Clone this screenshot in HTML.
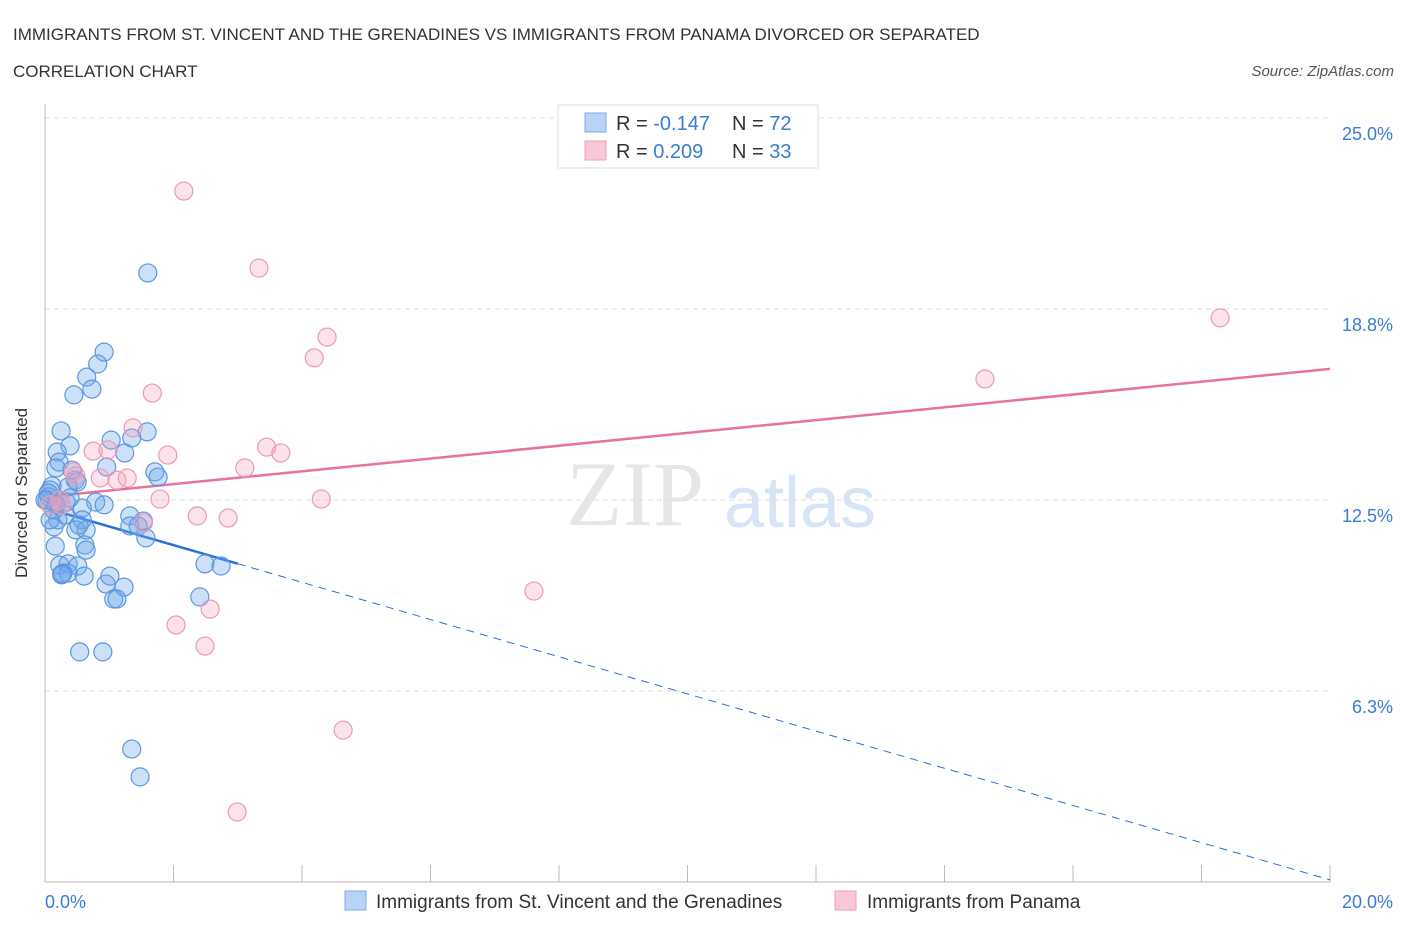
<!DOCTYPE html>
<html><head><meta charset="utf-8"><style>
body{margin:0;background:#fff;font-family:"Liberation Sans",sans-serif;}
svg text{font-family:"Liberation Sans",sans-serif;}
</style></head><body>
<svg width="1406" height="930" xmlns="http://www.w3.org/2000/svg" id="chart">
<text x="13" y="40" font-size="17" fill="#333">IMMIGRANTS FROM ST. VINCENT AND THE GRENADINES VS IMMIGRANTS FROM PANAMA DIVORCED OR SEPARATED</text>
<text x="13" y="77" font-size="17" fill="#333">CORRELATION CHART</text>
<text x="1394" y="76" font-size="15" fill="#555" text-anchor="end" font-style="italic">Source: ZipAtlas.com</text>
<text x="635" y="525" font-size="92" fill="#e6e6e6" text-anchor="middle" font-family="Liberation Serif" style="font-family:'Liberation Serif',serif">ZIP</text>
<text x="800" y="527" font-size="72" fill="#d6e4f5" text-anchor="middle">atlas</text>
<g id="grid"></g>
<line x1="45" y1="104" x2="45" y2="882" stroke="#bbb"/>
<line x1="45" y1="882" x2="1330" y2="882" stroke="#bbb"/>
<g id="xticks"></g>
<text x="27" y="493" font-size="17" fill="#333" text-anchor="middle" transform="rotate(-90 27 493)">Divorced or Separated</text>
<text x="45" y="908" font-size="18" fill="#3a7bd5">0.0%</text>
<text x="1393" y="908" font-size="18" fill="#3a7bd5" text-anchor="end">20.0%</text>
<g id="lines"></g>
<g id="points"></g>
<g>
<rect x="558" y="105" width="260" height="63" fill="#fff" stroke="#ddd"/>
<rect x="585" y="113" width="21" height="19" fill="#b9d3f5" stroke="#7eaee8"/>
<rect x="585" y="141" width="21" height="19" fill="#f9c8d6" stroke="#eda0b8"/>
<text x="616" y="130" font-size="20" fill="#333">R = <tspan fill="#3a7bd5">-0.147</tspan></text>
<text x="732" y="130" font-size="20" fill="#333">N = <tspan fill="#3a7bd5">72</tspan></text>
<text x="616" y="158" font-size="20" fill="#333">R = <tspan fill="#3a7bd5"> 0.209</tspan></text>
<text x="732" y="158" font-size="20" fill="#333">N = <tspan fill="#3a7bd5">33</tspan></text>
</g>
<g>
<rect x="345" y="891" width="21" height="19" fill="#b9d3f5" stroke="#7eaee8"/>
<text x="376" y="908" font-size="19" fill="#333">Immigrants from St. Vincent and the Grenadines</text>
<rect x="835" y="891" width="21" height="19" fill="#f9c8d6" stroke="#eda0b8"/>
<text x="867" y="908" font-size="19" fill="#333">Immigrants from Panama</text>
</g>
</svg>
<script>
const yTicks=[6.25,12.5,18.75,25];
const yTickLabels=["6.3%","12.5%","18.8%","25.0%"];
const xTickVals=[0,2,4,6,8,10,12,14,16,18,20];
const blueX=[1.60,0.92,0.82,0.65,0.73,0.45,0.25,1.59,0.39,1.03,1.35,1.24,0.19,0.22,0.17,0.96,0.47,0.50,0.36,1.71,1.76,0.11,0.08,0.06,0.03,0.39,0.79,0.58,0.14,0.31,0.58,0.20,1.32,1.53,1.32,1.45,0.48,0.64,0.14,1.57,0.62,0.16,0.64,0.23,0.36,0.51,0.28,0.36,0.26,0.61,1.01,0.95,1.23,1.07,1.12,2.49,2.74,2.41,0.54,0.90,1.35,1.48,0.05,0.0,0.23,0.33,0.08,0.17,0.92,0.42,0.26,0.53];
const blueY=[19.93,17.34,16.95,16.52,16.13,15.94,14.76,14.73,14.27,14.46,14.53,14.04,14.07,13.74,13.55,13.58,13.15,13.09,12.93,13.42,13.25,12.96,12.83,12.60,12.50,12.57,12.43,12.24,12.17,12.01,11.85,11.85,11.98,11.81,11.65,11.65,11.52,11.52,11.62,11.26,11.03,10.99,10.86,10.37,10.41,10.34,10.11,10.11,10.08,10.01,10.01,9.75,9.65,9.26,9.26,10.41,10.34,9.33,7.53,7.53,4.35,3.44,12.73,12.50,12.50,12.43,11.85,12.34,12.34,13.48,10.05,11.68];
const pinkX=[2.16,3.33,4.39,4.19,1.67,1.37,1.91,0.75,0.98,3.45,3.67,3.11,0.44,0.48,1.12,1.28,0.86,1.79,4.30,0.23,0.08,0.26,2.37,2.85,1.53,7.61,2.57,2.04,2.49,4.64,2.99,14.63,18.29];
const pinkY=[22.61,20.09,17.83,17.15,16.0,14.86,13.97,14.10,14.14,14.23,14.04,13.55,13.42,13.29,13.15,13.22,13.22,12.53,12.53,12.50,12.34,12.34,11.98,11.91,11.75,9.52,8.93,8.41,7.72,4.97,2.29,16.46,18.46];
const pinkTrend=[12.60,16.79];
const blueTrend=[12.24,0.07];
const blueSolidEnd=3.0;
const NS="http://www.w3.org/2000/svg";
const X=v=>45+v/20*1285;
const Y=v=>882-v*30.56;
function mk(tag,attrs,parent){const e=document.createElementNS(NS,tag);for(const k in attrs)e.setAttribute(k,attrs[k]);document.getElementById(parent).appendChild(e);return e;}
yTicks.forEach((t,i)=>{
 const l=mk('line',{x1:45,x2:1330,y1:Y(t),y2:Y(t),stroke:'#ddd','stroke-dasharray':'5,4'},'grid');
 
 
 const tx=mk('text',{x:1393,y:Y(t)+22,'font-size':18,fill:'#3a7bd5','text-anchor':'end'},'grid');
 tx.textContent=yTickLabels[i];
 
 
});
xTickVals.forEach(v=>{
 const l=mk('line',{x1:X(v),x2:X(v),y1:865,y2:882,stroke:'#bbb'},'xticks');
 
 
});
function lin(a,b,x){return a+(b-a)*x/20;}
let pl=mk('line',{x1:X(0),y1:Y(pinkTrend[0]),x2:X(20),y2:Y(pinkTrend[1]),stroke:'#e8729a','stroke-width':2.5},'lines');


let bl=mk('line',{x1:X(0),y1:Y(blueTrend[0]),x2:X(blueSolidEnd),y2:Y(lin(blueTrend[0],blueTrend[1],blueSolidEnd)),stroke:'#2a6fd6','stroke-width':2.5},'lines');


let bd=mk('line',{x1:X(blueSolidEnd),y1:Y(lin(blueTrend[0],blueTrend[1],blueSolidEnd)),x2:X(20),y2:Y(blueTrend[1]),stroke:'#2a6fd6','stroke-width':1,'stroke-dasharray':'8,6'},'lines');


blueX.forEach((x,i)=>{
 const c=mk('circle',{cx:X(x),cy:Y(blueY[i]),r:9,fill:'rgba(110,165,235,0.35)',stroke:'#5b97e0','stroke-width':1.2},'points');
 
 
});
pinkX.forEach((x,i)=>{
 const c=mk('circle',{cx:X(x),cy:Y(pinkY[i]),r:9,fill:'rgba(245,160,190,0.3)',stroke:'#eb9ab6','stroke-width':1.2},'points');
 
 
});
</script>
</body></html>
